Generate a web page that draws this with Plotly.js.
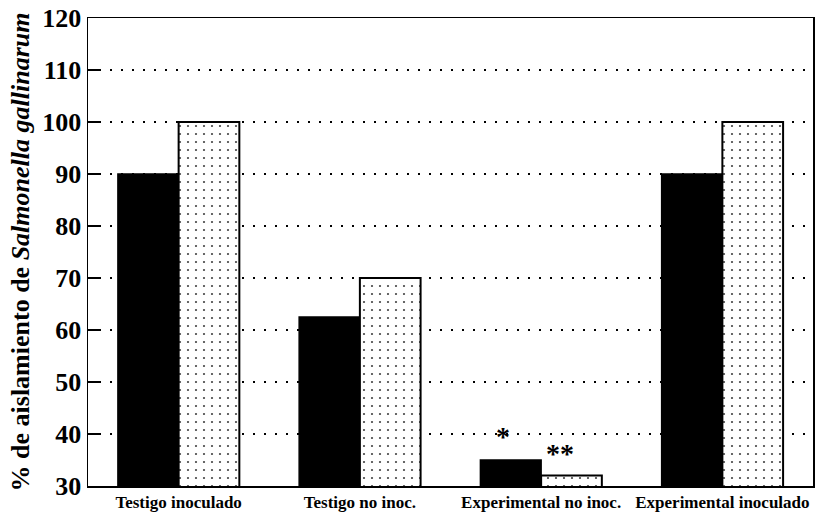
<!DOCTYPE html>
<html>
<head>
<meta charset="utf-8">
<script src="https://cdn.plot.ly/plotly-3.0.1.min.js"></script>
<style>html,body{margin:0;padding:0;background:#fff;}#chart{width:820px;height:513px;}</style>
</head>
<body>
<div id="chart"></div>
<script>
var categories = ["Testigo inoculado", "Testigo no inoc.", "Experimental no inoc.", "Experimental inoculado"];
var seriesA = [90, 62.5, 35, 90];
var seriesB = [100, 70, 32, 100];
var marksA = ["", "", "*", ""];
var marksB = ["", "", "**", ""];
var yTicks = [30, 40, 50, 60, 70, 80, 90, 100, 110, 120];

var serif = "Liberation Serif, Times New Roman, serif";

var traces = [
  {
    type: "bar", x: categories, y: seriesA, name: "A",
    marker: {color: "#000", line: {color: "#000", width: 1.5}},
    hoverinfo: "x+y"
  },
  {
    type: "bar", x: categories, y: seriesB, name: "B",
    marker: {
      color: "#fff",
      line: {color: "#000", width: 2},
      pattern: {shape: ".", fgcolor: "#444", bgcolor: "#fff", size: 8, solidity: 0.06}
    },
    hoverinfo: "x+y"
  }
];

var annotations = [];
categories.forEach(function (c, i) {
  if (marksA[i]) annotations.push({x: c, y: seriesA[i], xref: "x", yref: "y", text: "<b>" + marksA[i] + "</b>", showarrow: false, xshift: -38, yshift: 6, yanchor: "bottom", font: {family: serif, size: 28, color: "#000"}});
  if (marksB[i]) annotations.push({x: c, y: seriesB[i], xref: "x", yref: "y", text: "<b>" + marksB[i] + "</b>", showarrow: false, xshift: 19, yshift: 5, yanchor: "bottom", font: {family: serif, size: 28, color: "#000"}});
});

var layout = {
  width: 820, height: 513,
  margin: {l: 88, r: 7, t: 18, b: 27, pad: 0},
  paper_bgcolor: "#fff", plot_bgcolor: "#fff",
  showlegend: false,
  barmode: "group", bargap: 0.33, bargroupgap: 0,
  font: {family: serif, color: "#000"},
  xaxis: {
    type: "category", tickangle: 0,
    showline: true, mirror: true, linecolor: "#000", linewidth: 1.5,
    showgrid: false, ticks: "", zeroline: false,
    tickfont: {family: serif, size: 17, color: "#000", weight: "bold"}
  },
  yaxis: {
    range: [30, 120], tickvals: yTicks, ticktext: yTicks.map(String),
    showline: true, mirror: true, linecolor: "#000", linewidth: 1.5,
    ticks: "inside", ticklen: 12, tickwidth: 1.5, tickcolor: "#000",
    showgrid: true, gridcolor: "#000", griddash: "2px,9px", gridwidth: 1.5,
    zeroline: false,
    tickfont: {family: serif, size: 26, color: "#000", weight: "bold"},
    title: {text: "<b>% de aislamiento de <i>Salmonella gallinarum</i></b>", font: {family: serif, size: 26, color: "#000", weight: "bold"}, standoff: 5}
  },
  annotations: annotations
};

Plotly.newPlot("chart", traces, layout, {displayModeBar: false, staticPlot: true});
</script>
</body>
</html>
